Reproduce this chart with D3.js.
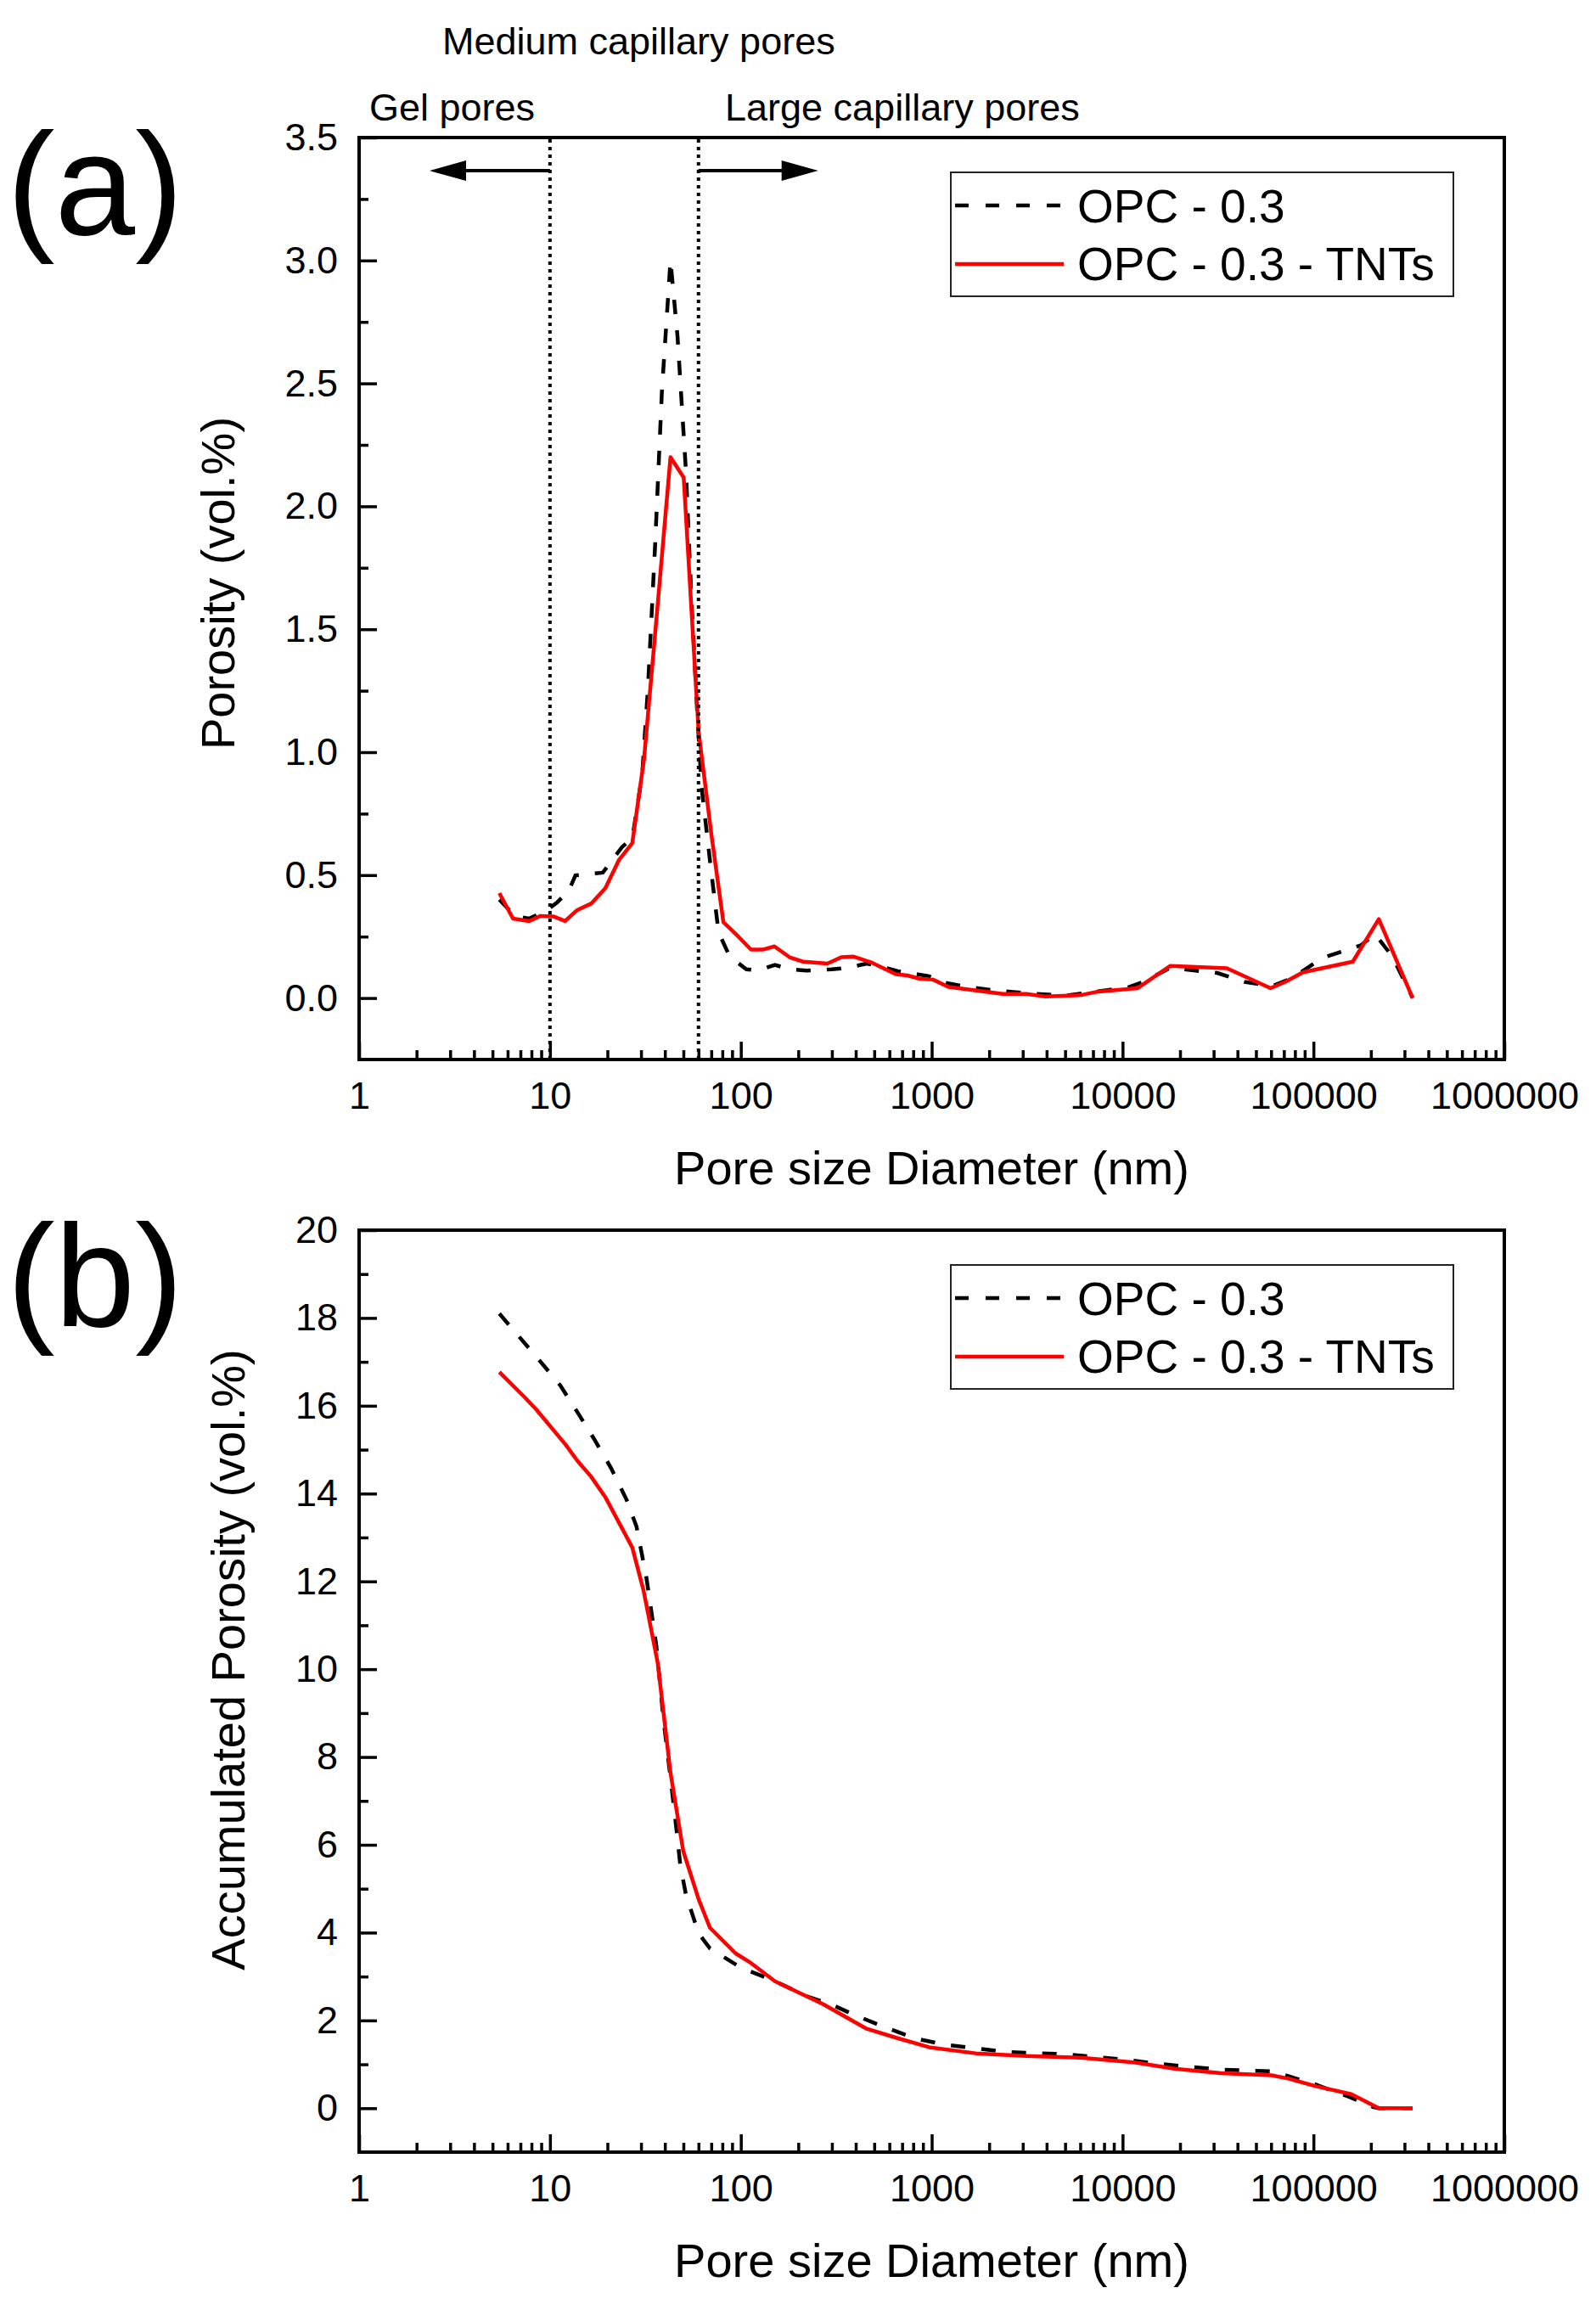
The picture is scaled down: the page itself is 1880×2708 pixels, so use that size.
<!DOCTYPE html>
<html>
<head>
<meta charset="utf-8">
<script src="https://cdn.jsdelivr.net/npm/d3@7"></script>
<style>
	body { margin: 0; background: #fff; }
	text { font-family: "Liberation Sans", Arial, sans-serif; fill: #000; }
</style>
</head>
<body>
<script>

// (a) pore size distribution
var diamA_opc = [5.43, 6.55, 7.77, 9.53, 10.9, 12.5, 13.6, 18.9, 23.9, 27, 30.4, 32.6, 35.5, 38.6, 42.8, 46.6, 51.6, 55.2, 59.2, 62.2, 69, 76.4, 87.5, 107, 123, 151, 180, 220, 299, 361, 456, 538, 664, 968, 1166, 1476, 2150, 3440, 5010, 8020, 10640, 12830, 17800, 31300, 43500, 60500, 76500, 111400, 178000, 210000, 259000, 331000];
var porA_opc = [0.40, 0.334, 0.323, 0.355, 0.389, 0.434, 0.499, 0.51, 0.615, 0.65, 0.907, 1.26, 1.832, 2.47, 3.0, 2.69, 2.14, 1.61, 1.15, 0.862, 0.555, 0.268, 0.168, 0.117, 0.112, 0.135, 0.117, 0.112, 0.117, 0.123, 0.140, 0.129, 0.109, 0.089, 0.063, 0.047, 0.031, 0.017, 0.010, 0.031, 0.043, 0.066, 0.123, 0.102, 0.066, 0.048, 0.079, 0.163, 0.215, 0.261, 0.169, 0];

var diamA_tnt = [5.43, 6.4, 7.77, 8.91, 10.4, 12.0, 13.9, 16.5, 19.5, 23.0, 27.0, 31.1, 36.1, 42.8, 50.2, 60.1, 70.1, 81, 97, 113, 130, 150, 180, 212, 284, 336, 387, 478, 649, 747, 860, 1015, 1224, 2360, 3130, 3960, 6040, 7300, 11950, 17800, 35200, 59600, 71300, 88100, 160700, 220000, 331000];
var porA_tnt = [0.427, 0.323, 0.313, 0.334, 0.332, 0.313, 0.358, 0.385, 0.447, 0.562, 0.63, 0.972, 1.54, 2.20, 2.117, 1.083, 0.665, 0.309, 0.25, 0.197, 0.197, 0.21, 0.166, 0.148, 0.14, 0.166, 0.169, 0.146, 0.097, 0.092, 0.079, 0.075, 0.045, 0.017, 0.017, 0.006, 0.012, 0.025, 0.04, 0.131, 0.121, 0.04, 0.066, 0.105, 0.148, 0.321, 0];

// (b) accumulated porosity
var diamB_opc = [5.43, 9.06, 11.3, 13.9, 17.0, 20.9, 25.2, 28.4, 32.0, 36.1, 39.3, 42.8, 45.8, 48.2, 51.6, 60.1, 68.9, 100, 146, 228, 299, 396, 564, 821, 1166, 2480, 5010, 10640, 15500, 32800, 60400, 71300, 101000, 154000, 205000, 220000, 331000];
var porB_opc = [18.1, 16.97, 16.47, 15.86, 15.25, 14.58, 13.86, 13.25, 12.09, 10.53, 8.86, 7.53, 6.42, 5.53, 4.86, 3.98, 3.64, 3.20, 2.92, 2.53, 2.36, 2.12, 1.85, 1.59, 1.45, 1.28, 1.23, 1.10, 1.01, 0.88, 0.84, 0.75, 0.55, 0.26, 0.03, 0, 0];

var diamB_tnt = [5.43, 7.38, 8.46, 12.1, 13.9, 16.4, 19.5, 27.0, 30.9, 36.7, 42.8, 49.9, 60.1, 68.9, 93.7, 111, 151, 270, 456, 634, 968, 1700, 3130, 6040, 11700, 18700, 32800, 60400, 74700, 101000, 158000, 220000, 331000];
var porB_tnt = [16.77, 16.19, 15.92, 15.11, 14.75, 14.39, 13.92, 12.77, 11.8, 10.14, 7.64, 5.86, 4.76, 4.11, 3.53, 3.33, 2.89, 2.37, 1.81, 1.62, 1.39, 1.25, 1.19, 1.15, 1.04, 0.90, 0.80, 0.75, 0.67, 0.51, 0.32, 0, 0];

var xTicks = [1, 10, 100, 1000, 10000, 100000, 1000000];
var yTicksA = [0, 0.5, 1.0, 1.5, 2.0, 2.5, 3.0, 3.5];
var yTicksB = [0, 2, 4, 6, 8, 10, 12, 14, 16, 18, 20];
var seriesNames = ['OPC - 0.3', 'OPC - 0.3 - TNTs'];
var poreBounds = [10, 60];


var width = 1880;
var height = 2708;
var left = 423, right = 1772;

var svg = d3.select('body').append('svg')
			.attr('width', width)
			.attr('height', height);

var x = d3.scaleLog()
	.domain([1, 1000000])
	.range([left, right]);

// minor ticks 2..9 in each decade
var xMinor = [];
xTicks.slice(0, -1).forEach(function(t){
	for (var k = 2; k < 10; k++) xMinor.push(t * k);
});

function styleAxis(sel, fs){
	sel.select('.domain').remove();
	sel.selectAll('.tick line').attr('stroke', '#000').attr('stroke-width', 3.5);
	sel.selectAll('.tick text')
		.attr('font-family', '"Liberation Sans", Arial, sans-serif')
		.attr('font-size', fs)
		.attr('fill', '#000');
}

function drawPanel(cfg){
	var y = d3.scaleLinear()
		.domain(cfg.yDomain)
		.range([cfg.bottom, cfg.top]);

	var g = svg.append('g');

	// x axis
	g.append('g')
		.attr('transform', 'translate(0,' + cfg.bottom + ')')
		.call(d3.axisBottom(x).tickValues(xMinor).tickSize(-11).tickFormat(''))
		.call(styleAxis, 45);
	g.append('g')
		.attr('transform', 'translate(0,' + cfg.bottom + ')')
		.call(d3.axisBottom(x).tickValues(xTicks).tickSize(-21).tickPadding(26).tickFormat(d3.format('d')))
		.call(styleAxis, 45);

	// y axis
	g.append('g')
		.attr('transform', 'translate(' + left + ',0)')
		.call(d3.axisLeft(y).tickValues(cfg.yMinor).tickSize(-11).tickFormat(''))
		.call(styleAxis, 45);
	g.append('g')
		.attr('transform', 'translate(' + left + ',0)')
		.call(d3.axisLeft(y).tickValues(cfg.yTicks).tickSize(-21).tickPadding(25).tickFormat(cfg.yFormat))
		.call(styleAxis, 45);

	// frame
	g.append('rect')
		.attr('x', left)
		.attr('y', cfg.top)
		.attr('width', right - left)
		.attr('height', cfg.bottom - cfg.top)
		.attr('fill', 'none')
		.attr('stroke', '#000')
		.attr('stroke-width', 4);

	var line = d3.line()
		.x(function(d){ return x(d[0]); })
		.y(function(d){ return y(d[1]); });

	g.append('path')
		.datum(d3.zip(cfg.opcX, cfg.opcY))
		.attr('d', line)
		.attr('fill', 'none')
		.attr('stroke', '#000')
		.attr('stroke-width', 4.5)
		.attr('stroke-dasharray', '17,19');

	g.append('path')
		.datum(d3.zip(cfg.tntX, cfg.tntY))
		.attr('d', line)
		.attr('fill', 'none')
		.attr('stroke', '#ff0000')
		.attr('stroke-width', 4.5)
		.attr('stroke-linejoin', 'round');

	// axis titles
	g.append('text')
		.attr('x', (left + right) / 2)
		.attr('y', cfg.bottom + 147)
		.attr('text-anchor', 'middle')
		.attr('font-size', 56)
		.text('Pore size Diameter (nm)');

	g.append('text')
		.attr('transform', 'translate(' + cfg.yTitleX + ',' + cfg.yTitleY + ') rotate(-90)')
		.attr('text-anchor', 'middle')
		.attr('dy', '0.35em')
		.attr('font-size', 56)
		.text(cfg.yTitle);

	// panel letter
	g.append('text')
		.attr('x', 8)
		.attr('y', cfg.letterY)
		.attr('font-size', 170)
		.text(cfg.letter);

	// legend
	var lg = g.append('g').attr('transform', 'translate(1120,' + (cfg.top + 41) + ')');
	lg.append('rect')
		.attr('width', 592)
		.attr('height', 146)
		.attr('fill', '#fff')
		.attr('stroke', '#222')
		.attr('stroke-width', 2);
	lg.append('line')
		.attr('x1', 5).attr('x2', 133)
		.attr('y1', 39).attr('y2', 39)
		.attr('stroke', '#000')
		.attr('stroke-width', 4.5)
		.attr('stroke-dasharray', '16,20');
	lg.append('line')
		.attr('x1', 5).attr('x2', 133)
		.attr('y1', 108).attr('y2', 108)
		.attr('stroke', '#ff0000')
		.attr('stroke-width', 4.5);
	lg.selectAll('.ltext')
		.data(seriesNames)
		.enter().append('text')
		.attr('x', 149)
		.attr('y', function(d, i){ return i === 0 ? 59 : 127; })
		.attr('font-size', 55)
		.text(function(d){ return d; });

	return y;
}

var yA = drawPanel({
	top: 162, bottom: 1248,
	yDomain: [-0.25, 3.5],
	yTicks: yTicksA,
	yMinor: d3.range(0.25, 3.5, 0.5),
	yFormat: d3.format('.1f'),
	opcX: diamA_opc, opcY: porA_opc,
	tntX: diamA_tnt, tntY: porA_tnt,
	yTitle: 'Porosity (vol.%)', yTitleX: 256, yTitleY: 687,
	letter: '(a)', letterY: 276
});

drawPanel({
	top: 1449, bottom: 2535,
	yDomain: [-1, 20],
	yTicks: yTicksB,
	yMinor: d3.range(1, 20, 2),
	yFormat: d3.format('d'),
	opcX: diamB_opc, opcY: porB_opc,
	tntX: diamB_tnt, tntY: porB_tnt,
	yTitle: 'Accumulated Porosity (vol.%)', yTitleX: 268, yTitleY: 1955,
	letter: '(b)', letterY: 1562
});

// pore class boundaries in panel (a)
svg.selectAll('.bound')
	.data(poreBounds)
	.enter().append('line').classed('bound', true)
	.attr('x1', function(d){ return x(d); })
	.attr('x2', function(d){ return x(d); })
	.attr('y1', 164)
	.attr('y2', 1246)
	.attr('stroke', '#000')
	.attr('stroke-width', 4)
	.attr('stroke-dasharray', '4,5');

// arrows
var arrowY = yA(3.365);
var arrows = [[10, 2.34], [60, 254]];
arrows.forEach(function(a){
	var x0 = x(a[0]), x1 = x(a[1]);
	var dir = x1 > x0 ? 1 : -1;
	svg.append('line')
		.attr('x1', x0).attr('x2', x1 - dir * 30)
		.attr('y1', arrowY).attr('y2', arrowY)
		.attr('stroke', '#000')
		.attr('stroke-width', 4);
	svg.append('path')
		.attr('d', 'M' + x1 + ',' + arrowY + 'L' + (x1 - dir * 43) + ',' + (arrowY - 12) + 'L' + (x1 - dir * 43) + ',' + (arrowY + 12) + 'Z')
		.attr('fill', '#000');
});

svg.append('text').attr('x', 521).attr('y', 64).attr('font-size', 45).text('Medium capillary pores');
svg.append('text').attr('x', 435).attr('y', 142).attr('font-size', 45).text('Gel pores');
svg.append('text').attr('x', 854).attr('y', 142).attr('font-size', 45).text('Large capillary pores');

</script>
</body>
</html>
